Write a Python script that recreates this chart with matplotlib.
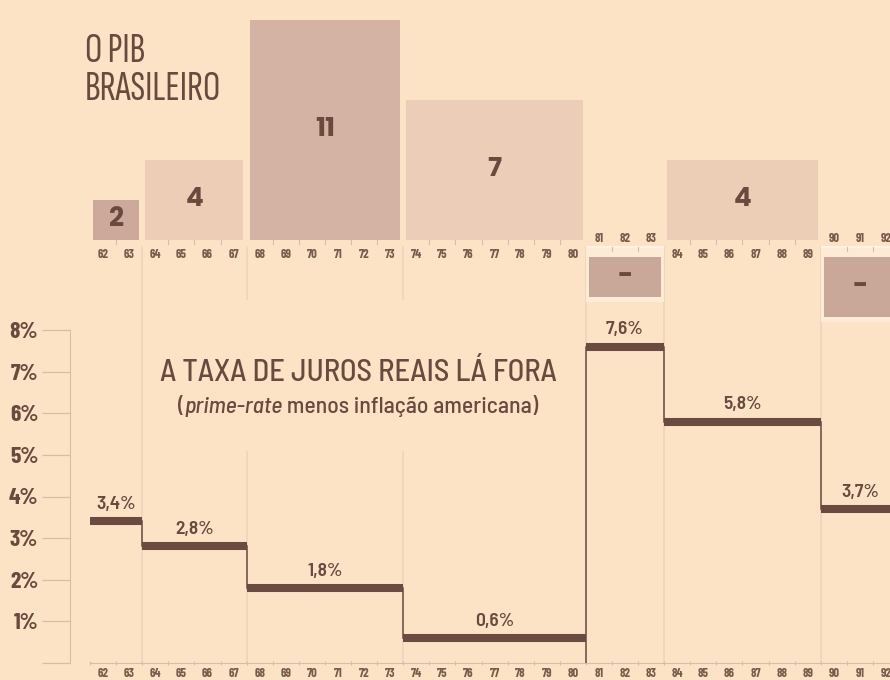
import matplotlib
matplotlib.use('Agg')
import matplotlib.pyplot as plt

# ---------------- data ----------------
years = list(range(62, 93))
year_labels = [f"{y}" for y in years]
period_start = [62, 64, 68, 74, 81, 84, 90]
period_end = [63, 67, 73, 80, 83, 89, 92]
gdp_growth = [2, 4, 11, 7, -2, 4, -3]
gdp_labels = ['2', '4', '11', '7', '-', '4', '-']
real_rates = [3.4, 2.8, 1.8, 0.6, 7.6, 5.8, 3.7]
rate_labels = ['3,4%', '2,8%', '1,8%', '0,6%', '7,6%', '5,8%', '3,7%']
rate_ticks = [0, 1, 2, 3, 4, 5, 6, 7, 8]
rate_tick_labels = ['', '1%', '2%', '3%', '4%', '5%', '6%', '7%', '8%']

# ---------------- style ----------------
BG = '#fce3c6'
TEXT = '#6a4a3e'
RATE = '#6b4a3f'
FAINT = '#edd3bb'
TICK = '#d8bca5'
LIGHT = '#fdebd6'
TOPLINE = '#fff3e6'
YEARC = '#7a5a4c'
bar_colors = ['#cca99b', '#eecdb6', '#d4b3a4', '#eccdb7', '#c9a89a', '#eccdb6', '#c9a89a']

COND = ['Barlow Condensed', 'Roboto Condensed', 'DejaVu Sans']
SEMI = ['Barlow Semi Condensed', 'Barlow Condensed', 'DejaVu Sans']
XCOND = ['Sofia Sans Extra Condensed', 'Barlow Condensed', 'DejaVu Sans']
GEO = ['Poppins', 'Jost', 'DejaVu Sans']

W, H = 890, 680
PX_YEAR = 26.1          # pixels per year
X0_PX = 90              # pixel of the left edge of the first year
xlim = (61.5 - X0_PX / PX_YEAR, 61.5 + (W - X0_PX) / PX_YEAR)

fig = plt.figure(figsize=(W / 100, H / 100), dpi=100, facecolor=BG)

# top panel (GDP): 0 at px 240, 20 px per unit
ax1 = fig.add_axes([0, 1 - 320 / H, 1, 310 / H], zorder=2)
ax1.set_xlim(*xlim)
ax1.set_ylim(-4, 11.5)
ax1.set_facecolor('none')
ax1.axis('off')

# bottom panel (rates): 0 at px 663, 8 at px 330
ax2 = fig.add_axes([0, 17 / H, 1, 333 / H], zorder=1)
ax2.set_xlim(*xlim)
ax2.set_ylim(0, 8)
ax2.set_facecolor('none')

NEG_GAP = 0.85   # negative bars hang below a small gap
TOPLINE_Y = -0.35
INSET = 0.12

# ---------------- GDP bars ----------------
for s, e, g, lab, c in zip(period_start, period_end, gdp_growth, gdp_labels, bar_colors):
    left, right = s - 0.5, e + 0.5
    bottom = 0 if g > 0 else -NEG_GAP
    if g < 0:
        # light frame and white top line with ticks
        ax1.fill_between([left, right], TOPLINE_Y, bottom + g - 0.25, color=LIGHT,
                         zorder=0.5, lw=0, clip_on=False)
        ax1.plot([left, right], [TOPLINE_Y, TOPLINE_Y], color=TOPLINE, lw=1.6,
                 zorder=1, clip_on=False, solid_capstyle='butt')
        for b in range(s, e):
            ax1.plot([b + 0.5, b + 0.5], [TOPLINE_Y, TOPLINE_Y - 0.2], color=TICK,
                     lw=0.8, zorder=1.1)
    ax1.bar((left + right) / 2, g, width=(right - left) - 2 * INSET, bottom=bottom,
            color=c, edgecolor='none', zorder=2, clip_on=False)
    ax1.text((left + right) / 2, bottom + g / 2, lab, ha='center', va='center',
             fontsize=19, fontweight='bold', family=GEO, color=TEXT, zorder=3)
    # year labels
    for y in range(s, e + 1):
        ypos = 0.1 if g < 0 else -0.72
        ax1.text(y, ypos, f"{y}", ha='center', va='center', fontsize=9,
                 fontweight='bold', family=COND, color=YEARC, zorder=3,
                 clip_on=False)
        if g > 0 and y < e:
            ax1.plot([y + 0.5, y + 0.5], [0, -0.22], color=TICK, lw=0.8, zorder=1)

# ---------------- titles ----------------
fig.text(85 / W, 1 - 62 / H, 'O PIB', ha='left', va='baseline', fontsize=31,
         fontweight='semibold', family=XCOND, color=TEXT)
fig.text(85 / W, 1 - 100 / H, 'BRASILEIRO', ha='left', va='baseline', fontsize=31,
         fontweight='semibold', family=XCOND, color=TEXT)

TITLE_CX = 358
title = fig.text(TITLE_CX / W, 1 - 381 / H, 'A TAXA DE JUROS REAIS LÁ FORA', ha='center',
                 va='baseline', fontsize=22, fontweight='medium', family=SEMI, color=TEXT)
renderer = fig.canvas.get_renderer()
parts = [('(', 'normal'), ('prime-rate', 'italic'), (' menos inflação americana)', 'normal')]
sub_texts = [fig.text(0, 1 - 413 / H, p, ha='left', va='baseline', fontsize=17,
                      style=st, fontweight='medium', family=SEMI, color=TEXT)
             for p, st in parts]
widths = [t.get_window_extent(renderer).width for t in sub_texts]
xcur = TITLE_CX - sum(widths) / 2
for t, w in zip(sub_texts, widths):
    t.set_x(xcur / W)
    xcur += w

# title block extent (display px) for breaking the faint guide lines
tb = title.get_window_extent(renderer)
sb = [t.get_window_extent(renderer) for t in sub_texts]
blk_x0 = min([tb.x0] + [b.x0 for b in sb])
blk_x1 = max([tb.x1] + [b.x1 for b in sb])
blk_top = tb.y1 + 60
blk_bot = min(b.y0 for b in sb) - 35
inv = ax2.transData.inverted()
y_blk_top = inv.transform((0, blk_top))[1]
y_blk_bot = inv.transform((0, blk_bot))[1]

# ---------------- faint guides at period boundaries ----------------
GUIDE_TOP = 10.0   # ax2 units (px 247)
for e in period_end[:-1]:
    xb = e + 0.5
    xd = ax2.transData.transform((xb, 0))[0]
    if blk_x0 <= xd <= blk_x1:
        segs = [(0, y_blk_bot), (y_blk_top, GUIDE_TOP)]
    else:
        segs = [(0, GUIDE_TOP)]
    for y0, y1 in segs:
        ax2.plot([xb, xb], [y0, y1], color=FAINT, lw=1.1, zorder=1, clip_on=False)

# ---------------- rate steps ----------------
for i, (s, e, r, lab) in enumerate(zip(period_start, period_end, real_rates, rate_labels)):
    ax2.plot([s - 0.5, e + 0.5], [r, r], color=RATE, lw=5.8, solid_capstyle='butt',
             zorder=3, clip_on=False)
    ax2.annotate(lab, ((s + e) / 2, r), xytext=(0, 12), textcoords='offset points',
                 ha='center', va='center', fontsize=14, fontweight='semibold',
                 family=SEMI, color=TEXT, zorder=4, annotation_clip=False)
    if i + 1 < len(real_rates):
        nxt = real_rates[i + 1]
        lo = 0 if nxt > r else nxt
        hi = max(r, nxt)
        ax2.plot([e + 0.5, e + 0.5], [lo, hi], color=RATE, lw=1.1, zorder=2.5)

# ---------------- axes decoration ----------------
for sp in ['top', 'right']:
    ax2.spines[sp].set_visible(False)
ax2.spines['left'].set_position(('axes', 70 / W))
ax2.spines['left'].set_bounds(0, 8)
ax2.spines['left'].set_color(TICK)
ax2.spines['bottom'].set_bounds(61.5, xlim[1])
ax2.spines['bottom'].set_color(TICK)
ax2.set_yticks(rate_ticks, rate_tick_labels)
ax2.tick_params(axis='y', direction='out', length=20, width=0.9, color=TICK, pad=2.9,
                labelcolor=TEXT, labelsize=17)
for lbl in ax2.get_yticklabels():
    lbl.set_family(COND)
    lbl.set_fontweight('bold')
ax2.set_xticks(years, year_labels)
ax2.set_xticks([y + 0.5 for y in years[:-1]] + [61.5], minor=True)
ax2.tick_params(axis='x', which='major', length=0, pad=3.5, labelcolor=YEARC,
                labelsize=9)
ax2.tick_params(axis='x', which='minor', direction='inout', length=3, width=0.8,
                color=TICK)
for lbl in ax2.get_xticklabels():
    lbl.set_family(COND)
    lbl.set_fontweight('bold')

fig.savefig('out.png', dpi=100, facecolor=BG)
